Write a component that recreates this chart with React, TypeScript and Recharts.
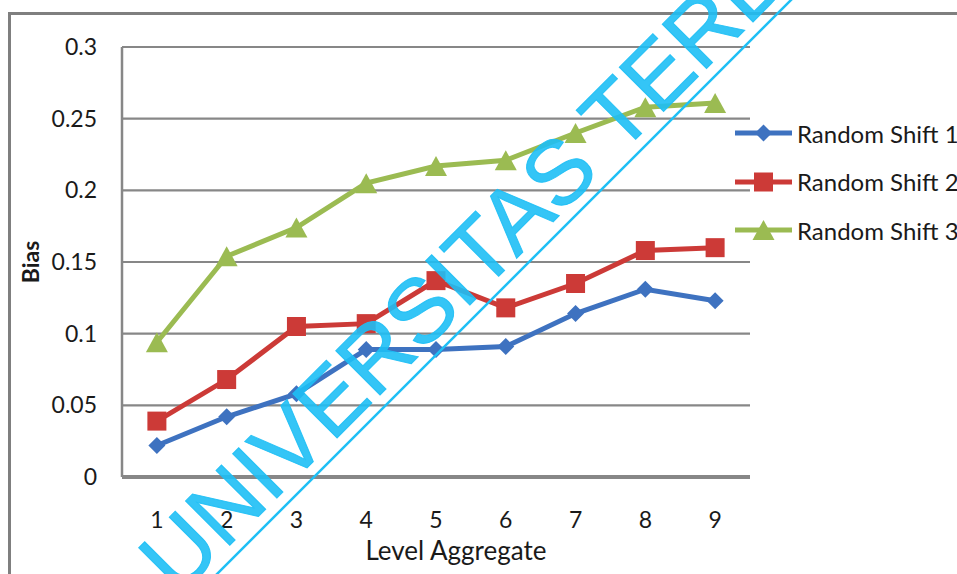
import React from 'react';
import { LineChart, Line, XAxis, YAxis, CartesianGrid, Label } from 'recharts';

// Aggregation levels on the x axis
const levels = ['1', '2', '3', '4', '5', '6', '7', '8', '9'];
// Bias per aggregation level for each random shift
const shift1 = [0.022, 0.042, 0.058, 0.089, 0.089, 0.091, 0.114, 0.131, 0.123];
const shift2 = [0.039, 0.068, 0.105, 0.107, 0.137, 0.118, 0.135, 0.158, 0.160];
const shift3 = [0.094, 0.154, 0.174, 0.205, 0.217, 0.221, 0.240, 0.258, 0.261];
const yTicks = [0, 0.05, 0.1, 0.15, 0.2, 0.25, 0.3];
const seriesNames = ['Random Shift 1', 'Random Shift 2', 'Random Shift 3'];

const data = levels.map((lv, i) => ({
  level: lv,
  s1: shift1[i],
  s2: shift2[i],
  s3: shift3[i],
}));

const BLUE = '#3e72c0';
const RED = '#cc3a37';
const GREEN = '#9bbb52';
const GRID = '#878787';
const FONT = 'Lato, "Open Sans", sans-serif';
const WATERMARK = '#1ebff5';

type Shape = 'diamond' | 'square' | 'triangle';

const marker = (shape: Shape, cx: number, cy: number, color: string, key?: string | number) => {
  if (shape === 'diamond') {
    const r = 8.5;
    return (
      <path key={key} d={`M${cx},${cy - r}L${cx + r},${cy}L${cx},${cy + r}L${cx - r},${cy}Z`} fill={color} />
    );
  }
  if (shape === 'square') {
    const r = 9.5;
    return <rect key={key} x={cx - r} y={cy - r} width={r * 2} height={r * 2} fill={color} />;
  }
  const w = 11;
  const h = 10;
  return (
    <path key={key} d={`M${cx},${cy - h}L${cx + w},${cy + h}L${cx - w},${cy + h}Z`} fill={color} />
  );
};

const dotFor = (shape: Shape, color: string) => (props: any) => {
  const { cx, cy, index } = props;
  if (cx == null || cy == null) return <g key={index} />;
  return marker(shape, cx, cy, color, index);
};

const legendItems: { name: string; color: string; shape: Shape }[] = [
  { name: seriesNames[0], color: BLUE, shape: 'diamond' },
  { name: seriesNames[1], color: RED, shape: 'square' },
  { name: seriesNames[2], color: GREEN, shape: 'triangle' },
];

const SeriesLegend = () => (
  <div style={{ position: 'absolute', left: 735, top: 109, display: 'flex', flexDirection: 'column' }}>
    {legendItems.map((it) => (
      <div key={it.name} style={{ display: 'flex', alignItems: 'center', height: 48.5, whiteSpace: 'nowrap' }}>
        <svg width={60} height={30} style={{ overflow: 'visible' }}>
          <line x1={0} y1={15} x2={57} y2={15} stroke={it.color} strokeWidth={5} />
          {marker(it.shape, 28.5, 15, it.color)}
        </svg>
        <span style={{ fontFamily: FONT, fontSize: 24, color: '#1a1a1a', marginLeft: 2 }}>{it.name}</span>
      </div>
    ))}
  </div>
);

const BiasLabel = (props: any) => {
  const vb = props.viewBox || {};
  const x = (vb.x ?? 0) + 30;
  const y = (vb.y ?? 0) + (vb.height ?? 0) / 2;
  return (
    <text
      x={x}
      y={y}
      transform={`rotate(-90 ${x} ${y})`}
      textAnchor="middle"
      dominantBaseline="central"
      fontFamily={FONT}
      fontWeight={700}
      fontSize={23}
      fill="#1a1a1a"
    >
      Bias
    </text>
  );
};

export default function App() {
  return (
    <div
      style={{
        position: 'absolute',
        left: 0,
        top: 0,
        width: 957,
        height: 574,
        overflow: 'hidden',
        background: '#ffffff',
      }}
    >
      {/* frame of the chart area */}
      <div
        style={{
          position: 'absolute',
          left: 8,
          top: 12,
          width: 1200,
          height: 800,
          borderLeft: '3px solid #7f7f7f',
          borderTop: '3px solid #7f7f7f',
        }}
      />
      <div style={{ position: 'absolute', left: 0, top: 0 }}>
        <LineChart width={957} height={574} data={data} margin={{ top: 47, right: 207, bottom: 0, left: 0 }}>
          <CartesianGrid horizontal vertical={false} stroke={GRID} strokeWidth={2.2} />
          <XAxis
            dataKey="level"
            scale="band"
            height={97}
            axisLine={{ stroke: GRID, strokeWidth: 4 }}
            tickLine={false}
            tickSize={0}
            tickMargin={35}
            tick={{ fontFamily: FONT, fontSize: 23, fill: '#1a1a1a' }}
            interval={0}
          >
            <Label
              value="Level Aggregate"
              position="insideBottom"
              offset={14}
              dx={20}
              style={{ fontFamily: FONT, fontSize: 26, fill: '#1a1a1a' }}
            />
          </XAxis>
          <YAxis
            width={122}
            domain={[0, 0.3]}
            ticks={yTicks}
            axisLine={{ stroke: GRID, strokeWidth: 2.5 }}
            tickLine={false}
            tickSize={0}
            tickMargin={25}
            tick={{ fontFamily: FONT, fontSize: 23, fill: '#1a1a1a' }}
          >
            <Label content={<BiasLabel />} />
          </YAxis>
          <Line
            type="linear"
            dataKey="s1"
            name={seriesNames[0]}
            stroke={BLUE}
            strokeWidth={5}
            dot={dotFor('diamond', BLUE)}
            isAnimationActive={false}
          />
          <Line
            type="linear"
            dataKey="s2"
            name={seriesNames[1]}
            stroke={RED}
            strokeWidth={5}
            dot={dotFor('square', RED)}
            isAnimationActive={false}
          />
          <Line
            type="linear"
            dataKey="s3"
            name={seriesNames[2]}
            stroke={GREEN}
            strokeWidth={5}
            dot={dotFor('triangle', GREEN)}
            isAnimationActive={false}
          />
        </LineChart>
      </div>
      <SeriesLegend />
      {/* diagonal watermark */}
      <svg
        width={957}
        height={574}
        style={{ position: 'absolute', left: 0, top: 0, pointerEvents: 'none' }}
      >
        <g transform="translate(178 597) rotate(-45)">
          <text
            x={0}
            y={0}
            fontFamily='"Liberation Sans", Arial, sans-serif'
            fontSize={91}
            fill={WATERMARK}
            fillOpacity={0.9}
            stroke={WATERMARK}
            strokeOpacity={0.9}
            strokeWidth={1}
          >
            UNIVERSITAS TERBUKA
          </text>
        </g>
        <g transform="translate(217 574) rotate(-45)">
          <line x1={-40} y1={0} x2={900} y2={0} stroke={WATERMARK} strokeWidth={2.5} />
        </g>
      </svg>
    </div>
  );
}
